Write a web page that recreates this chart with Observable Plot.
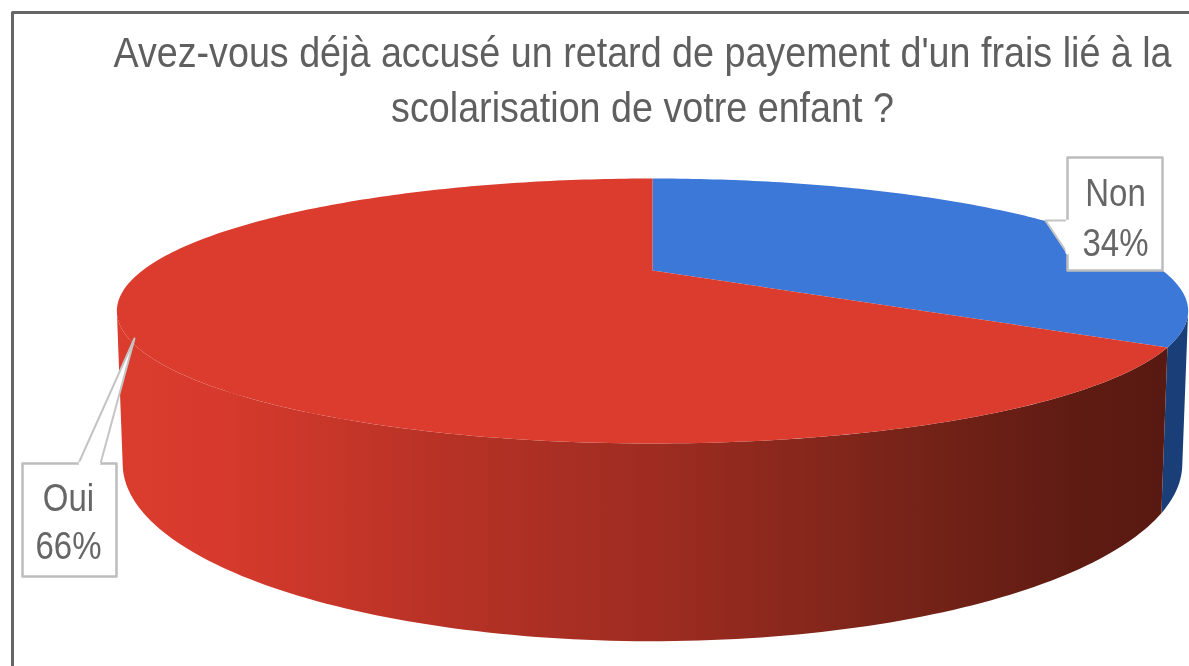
<!DOCTYPE html>
<html lang="fr">
<head>
<meta charset="utf-8">
<title>Retard de payement</title>
<script src="https://cdn.jsdelivr.net/npm/d3@7"></script>
<script src="https://cdn.jsdelivr.net/npm/@observablehq/plot@0.6"></script>
<style>
  html, body { margin: 0; padding: 0; background: #fff; }
  svg { display: block; filter: blur(0.7px); }
</style>
</head>
<body>
<div id="chart"></div>
<script>
// ---- data ----
const categories = ["Non", "Oui"];
const shares = [34, 66];
const labels = ["34%", "66%"];
const titleLines = [
  "Avez-vous déjà accusé un retard de payement d'un frais lié à la",
  "scolarisation de votre enfant ?"
];
const topColors = ["#3C78D8", "#DB3C2E"];

// ---- perspective model of the disc (u: right, v: toward viewer, h: depth down) ----
const W = 1189, H = 666;
const cx = 652, cy = 270, A = 510, B = 120.1;
const persp = 0.3057, drop = 1.174, shrink = 0.01;
const titleSize = 43, labelSize = 39;
const titleSquash = 37.7 / titleSize, labelSquash = 33 / labelSize; // lettering is horizontally compressed

const project = (deg, h = 0) => {
  const t = deg * Math.PI / 180, u = Math.sin(t), v = -Math.cos(t);
  const d = 1 - persp * v + shrink * h;
  return {x: u / d, y: (v + drop * h) / d};
};
const px = (x) => (x - cx) / A;
const py = (y) => (y - cy) / B;

// angles of the disc's right and left silhouette tangents
const rightEdge = Math.acos(-persp) * 180 / Math.PI;
const leftEdge = 360 - rightEdge;

// slice angles derived from shares
const total = d3.sum(shares);
let acc = 0;
const slices = categories.map((c, i) => {
  const a0 = acc / total * 360; acc += shares[i];
  return {c, i, a0, a1: acc / total * 360};
});
const arc = (a0, a1, h = 0) => {
  const n = Math.max(2, Math.ceil(Math.abs(a1 - a0)));
  return d3.range(n + 1).map((k) => project(a0 + (a1 - a0) * k / n, h));
};
const face = (s) => [{x: 0, y: 0}, ...arc(s.a0, s.a1)];
const wall = (a0, a1) => [...arc(a0, a1, 0), ...arc(a1, a0, 1)];

const boxes = [
  {c: "Non", x1: 1067, x2: 1162, y1: 157, y2: 270, tx: 1115, base: [205, 255]},
  {c: "Oui", x1: 22, x2: 116, y1: 463, y2: 576, tx: 68, base: [510, 558]}
];
const pointers = [
  [[1067, 220], [1045, 220], [1067, 253]],
  [[78, 463], [134, 338], [100, 463]]
];

const defs = (index, {x}) => {
  const d = d3.create("svg:defs");
  const grad = (id, stops) => {
    const g = d.append("linearGradient").attr("id", id)
      .attr("gradientUnits", "userSpaceOnUse")
      .attr("x1", x(px(115))).attr("x2", x(px(1188))).attr("y1", 0).attr("y2", 0);
    stops.forEach(([o, c]) => g.append("stop").attr("offset", o).attr("stop-color", c));
  };
  grad("wallRed", [[0, "#DB3C2E"], [0.1, "#D63A2C"], [0.3, "#B83226"], [0.5, "#9F2C21"],
                   [0.72, "#7A2419"], [0.9, "#5E1B12"], [1, "#571912"]]);
  grad("wallBlue", [[0, "#1C4587"], [1, "#1A3F78"]]);
  return d.node();
};

const poly = (pts, fill, stroke = "none", sw = 0) =>
  Plot.line(pts, {x: "x", y: "y", fill, stroke, strokeWidth: sw, curve: "linear-closed"});
const boxPts = (b) => [
  {x: px(b.x1), y: py(b.y1)}, {x: px(b.x2), y: py(b.y1)},
  {x: px(b.x2), y: py(b.y2)}, {x: px(b.x1), y: py(b.y2)}
];

const chart = Plot.plot({
  width: W, height: H, margin: 0,
  style: {background: "#fff", fontFamily: "'Liberation Sans', Arial, sans-serif"},
  x: {axis: null, domain: [-1, 1], range: [cx - A, cx + A]},
  y: {axis: null, domain: [-1, 1], range: [cy - B, cy + B]},
  marks: [
    defs,
    // frame
    Plot.line([[12, H], [12, 12], [W, 12]].map(([x, y]) => ({x: px(x), y: py(y)})),
      {x: "x", y: "y", stroke: "#666", strokeWidth: 3}),
    // title
    Plot.text(titleLines, {
      x: () => px(642), y: (d, i) => py(66 + i * 55.5), text: (d) => d,
      fontSize: titleSize, fill: "#5f5f5f", textAnchor: "middle", lineAnchor: "bottom"
    }),
    // walls
    poly(wall(rightEdge, slices[0].a1), "url(#wallBlue)"),
    poly(wall(slices[1].a0, leftEdge), "url(#wallRed)"),
    // top faces
    ...slices.map((s) => poly(face(s), topColors[s.i])),
    // callouts
    ...boxes.map((b) => poly(boxPts(b), "#fff", "#bdbdbd", 2.5)),
    ...pointers.map((p) => poly(p.map(([x, y]) => ({x: px(x), y: py(y)})), "#fff", "#c4c4c4", 2)),
    // patches hide the box edge beneath each pointer mouth
    Plot.line([[1067, 221], [1067, 252]].map(([x, y]) => ({x: px(x), y: py(y)})),
      {x: "x", y: "y", stroke: "#fff", strokeWidth: 4}),
    Plot.line([[80, 463], [98, 463]].map(([x, y]) => ({x: px(x), y: py(y)})),
      {x: "x", y: "y", stroke: "#fff", strokeWidth: 4}),
    // label text
    ...boxes.map((b) => {
      const i = categories.indexOf(b.c);
      return Plot.text([categories[i], labels[i]], {
        x: () => px(b.tx), y: (d, k) => py(b.base[k]), text: (d) => d,
        fontSize: labelSize, fill: "#666", textAnchor: "middle", lineAnchor: "bottom"
      });
    })
  ]
});
document.getElementById("chart").append(chart);
chart.querySelectorAll("text").forEach((t) => {
  const s = titleLines.includes(t.textContent) ? titleSquash : labelSquash;
  t.setAttribute("transform", `${t.getAttribute("transform") || ""} scale(${s},1)`);
});
</script>
</body>
</html>
